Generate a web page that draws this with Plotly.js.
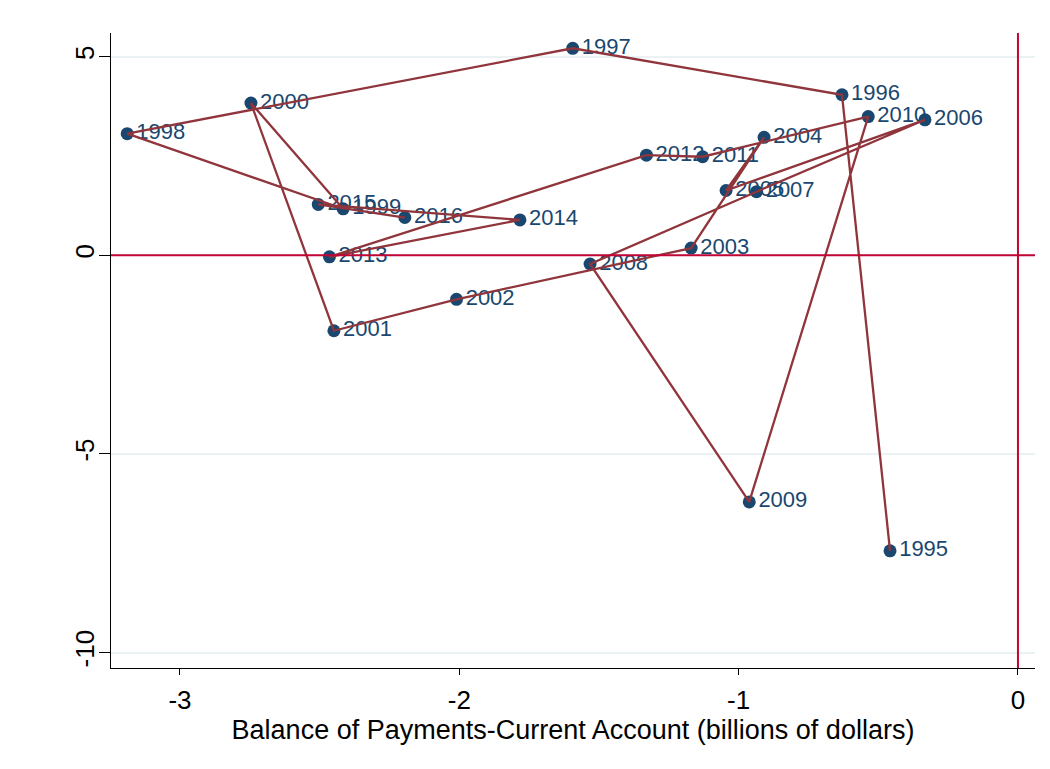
<!DOCTYPE html>
<html>
<head>
<meta charset="utf-8">
<script src="https://cdn.plot.ly/plotly-3.0.1.min.js"></script>
<style>html,body{margin:0;padding:0;background:#fff;}#chart{width:1050px;height:769px;}</style>
</head>
<body>
<div id="chart"></div>
<script>
const years = ["1995","1996","1997","1998","1999","2000","2001","2002","2003","2004","2005","2006","2007","2008","2009","2010","2011","2012","2013","2014","2015","2016"];
const currentAccount = [-0.458,-0.630,-1.594,-3.189,-2.416,-2.746,-2.449,-2.010,-1.170,-0.909,-1.045,-0.333,-0.936,-1.532,-0.962,-0.536,-1.129,-1.330,-2.465,-1.783,-2.505,-2.195];
const yValues = [-7.44,4.04,5.21,3.06,1.17,3.83,-1.90,-1.11,0.18,2.97,1.63,3.41,1.60,-0.22,-6.21,3.49,2.48,2.52,-0.04,0.89,1.28,0.95];
const xTicks = [-3,-2,-1,0];
const yTicks = [-10,-5,0,5];
const xTitle = "Balance of Payments-Current Account (billions of dollars)";

const FONT = "Liberation Sans, Arial, Helvetica, sans-serif";

const markers = {
  x: currentAccount, y: yValues, text: years,
  type: "scatter", mode: "markers+text",
  textposition: "middle right",
  textfont: {family: FONT, size: 22, color: "#1a476f"},
  marker: {color: "#1a476f", size: 13},
  hoverinfo: "skip", showlegend: false, cliponaxis: false
};
const path = {
  x: currentAccount, y: yValues,
  type: "scatter", mode: "lines",
  line: {color: "#90353b", width: 2.3},
  hoverinfo: "skip", showlegend: false
};

const layout = {
  width: 1050, height: 769,
  paper_bgcolor: "#ffffff", plot_bgcolor: "#ffffff",
  margin: {l: 111, r: 15, t: 33, b: 101},
  font: {family: FONT, color: "#000"},
  showlegend: false,
  xaxis: {
    range: [-3.247, 0.061], tickvals: xTicks, ticktext: xTicks.map(String),
    showgrid: false, zeroline: false,
    showline: true, linecolor: "#000", linewidth: 1,
    ticks: "outside", ticklen: 6, tickcolor: "#000",
    ticklabelstandoff: 3,
    tickfont: {family: FONT, size: 26, color: "#000"},
    title: {text: xTitle, font: {family: FONT, size: 27, color: "#000"}, standoff: 2}
  },
  yaxis: {
    range: [-10.39, 5.595], tickvals: yTicks, ticktext: yTicks.map(String),
    showgrid: true, gridcolor: "#eaf2f3", gridwidth: 2, zeroline: false,
    showline: true, linecolor: "#000", linewidth: 1,
    ticks: "outside", ticklen: 11, tickcolor: "#000",
    tickangle: -90, ticklabelstandoff: -5,
    tickfont: {family: FONT, size: 26, color: "#000"}
  },
  shapes: [
    {type: "line", xref: "paper", yref: "y", x0: 0, x1: 1, y0: 0, y1: 0, line: {color: "#c10534", width: 2}},
    {type: "line", xref: "x", yref: "paper", x0: 0, x1: 0, y0: 0, y1: 1, line: {color: "#c10534", width: 2}}
  ]
};

Plotly.newPlot("chart", [markers, path], layout, {displayModeBar: false, staticPlot: true});
</script>
</body>
</html>
